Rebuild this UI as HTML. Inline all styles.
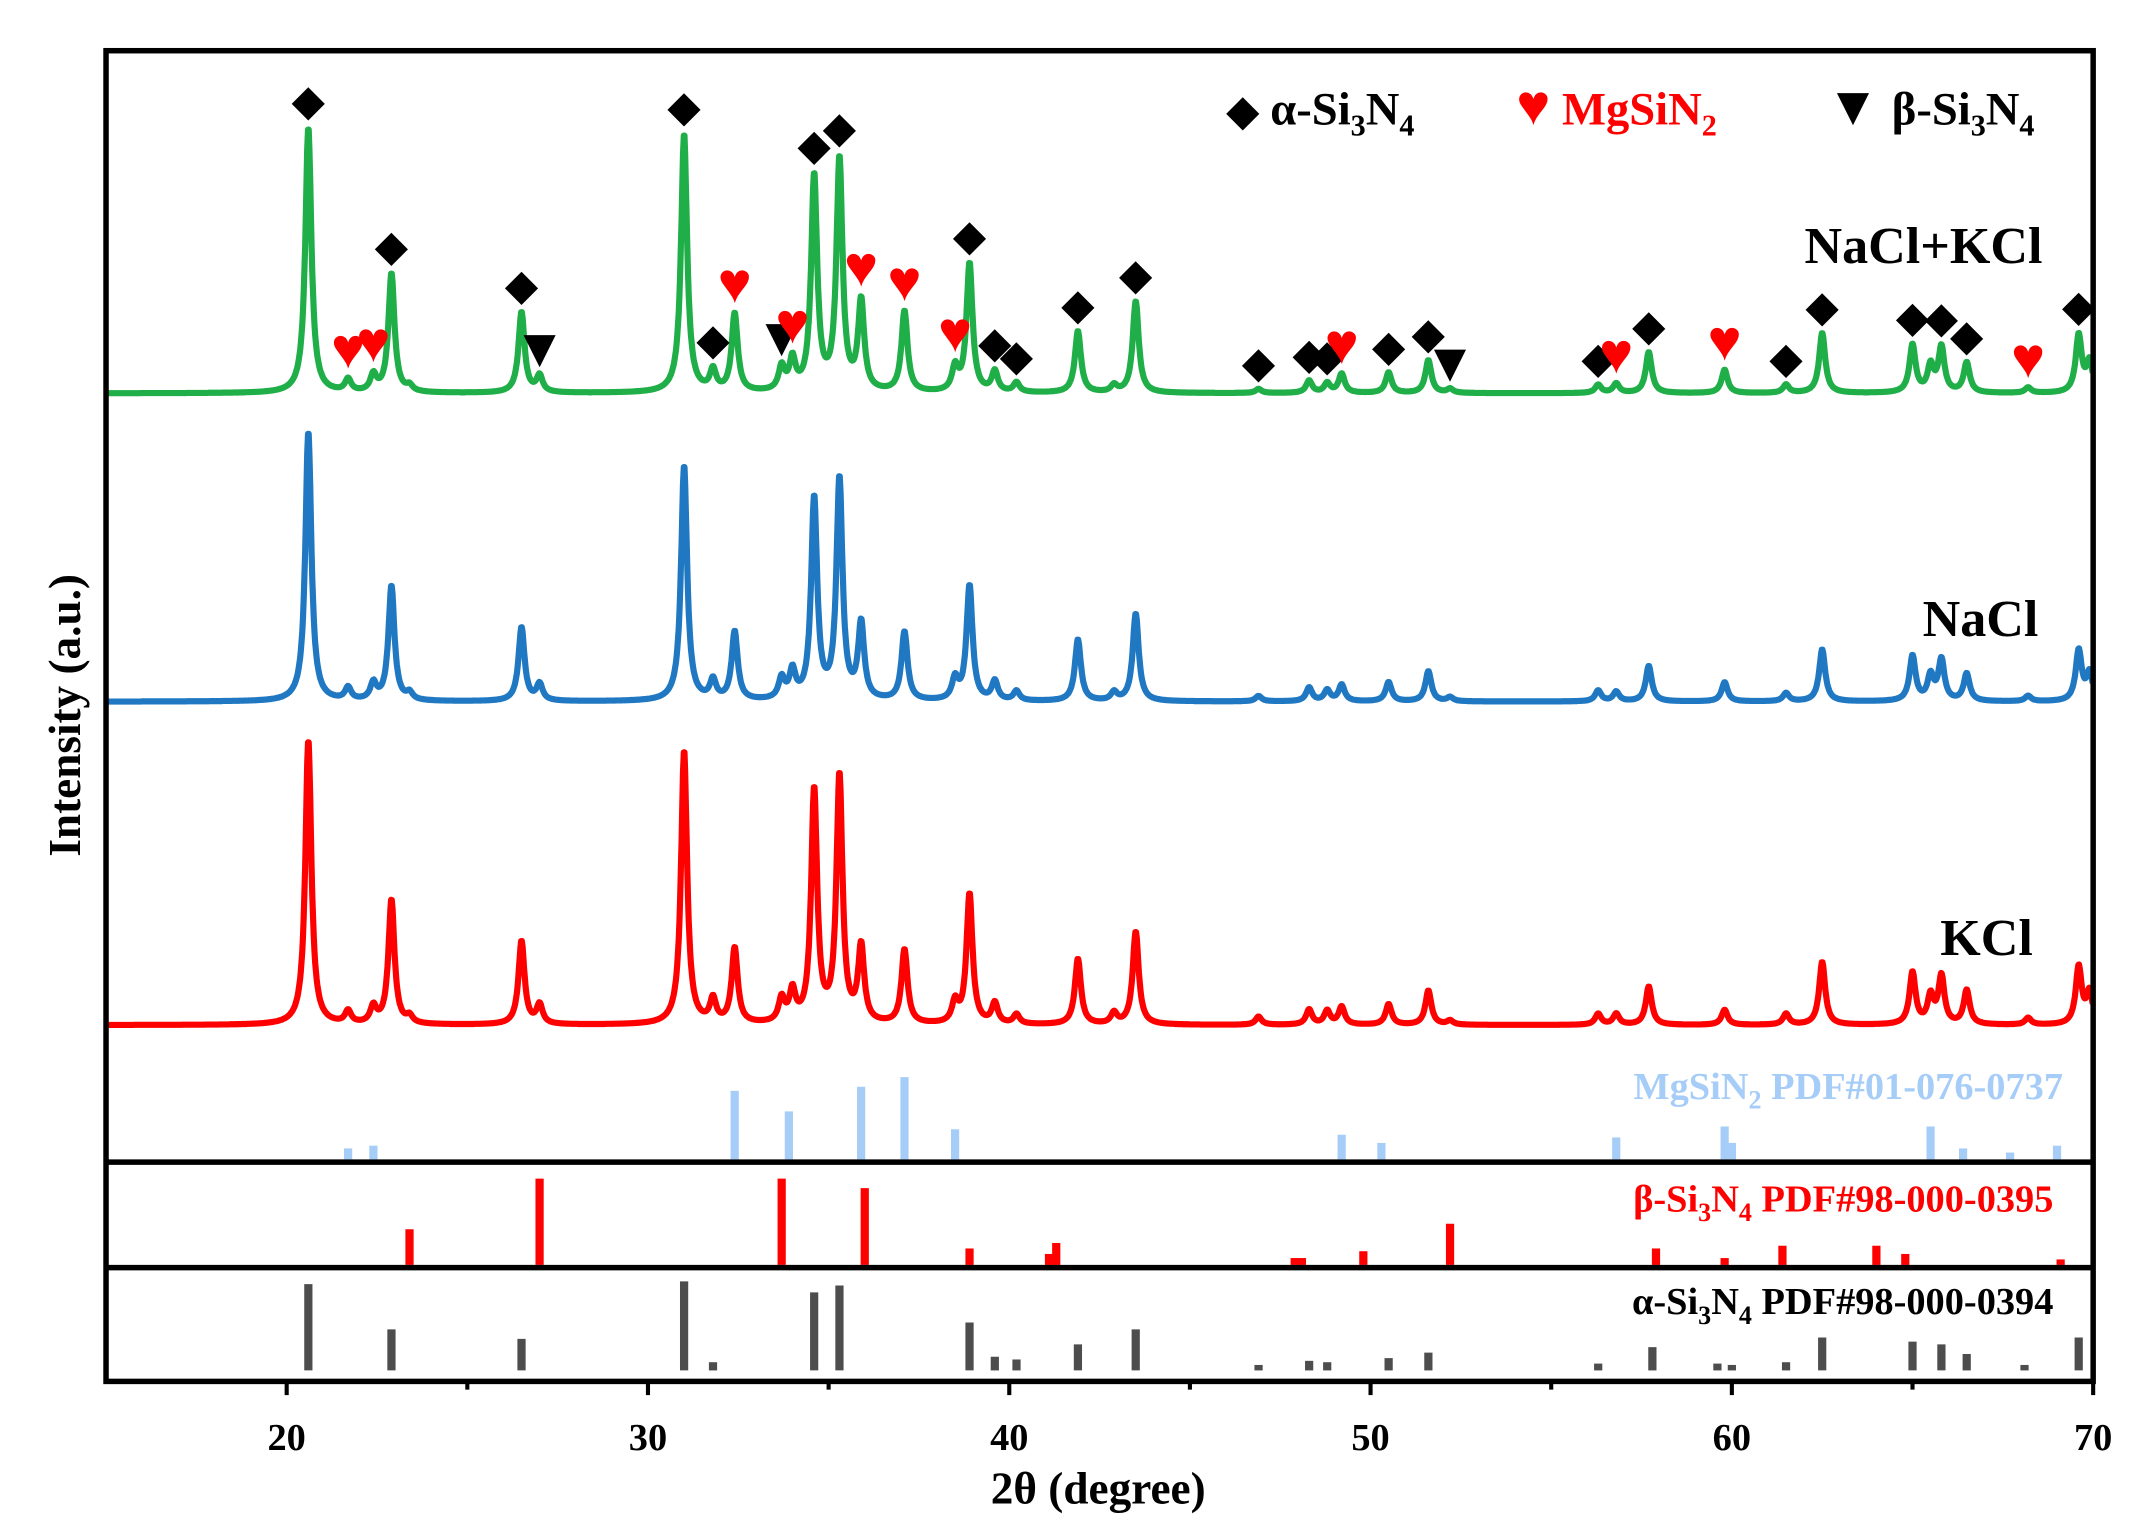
<!DOCTYPE html>
<html><head><meta charset="utf-8">
<style>
html,body{margin:0;padding:0;background:#fff;}
svg{display:block;font-family:"Liberation Serif",serif;font-weight:bold;}
</style></head>
<body>
<svg id="chart" width="2143" height="1539" viewBox="0 0 1563 1123" xmlns="http://www.w3.org/2000/svg">
<g id="curves"></g>
<g id="sticks"></g>
<g id="markers"></g>
<rect x="77" y="37" width="1450" height="971" fill="none" stroke="#000" stroke-width="4"/>
<line x1="77" y1="848" x2="1527" y2="848" stroke="#000" stroke-width="4"/>
<line x1="77" y1="925" x2="1527" y2="925" stroke="#000" stroke-width="4"/>
<g id="xaxis"></g>
<text x="801" y="1097" font-size="33" text-anchor="middle">2θ (degree)</text>
<text transform="translate(58,522) rotate(-90)" font-size="33" text-anchor="middle">Intensity (a.u.)</text>
<g font-size="34">
<text x="895" y="91"><tspan font-size="30">◆</tspan> α-Si<tspan font-size="22" dy="8">3</tspan><tspan dy="-8">N</tspan><tspan font-size="22" dy="8">4</tspan></text>
<text x="1106" y="91" fill="#ff0000"><tspan font-size="42">♥</tspan> MgSiN<tspan font-size="22" dy="8">2</tspan></text>
<text x="1332" y="91"><tspan font-size="40">▼</tspan> β-Si<tspan font-size="22" dy="8">3</tspan><tspan dy="-8">N</tspan><tspan font-size="22" dy="8">4</tspan></text>
</g>
<text x="1490" y="192" font-size="38" text-anchor="end">NaCl+KCl</text>
<text x="1487" y="464" font-size="38" text-anchor="end">NaCl</text>
<text x="1483" y="697" font-size="38" text-anchor="end">KCl</text>
<text x="1505" y="802" font-size="28" text-anchor="end" fill="#a6cdf7">MgSiN<tspan font-size="19" dy="7">2</tspan><tspan dy="-7"> PDF#01-076-0737</tspan></text>
<text x="1498" y="884" font-size="28" text-anchor="end" fill="#ff0000">β-Si<tspan font-size="19" dy="7">3</tspan><tspan dy="-7">N</tspan><tspan font-size="19" dy="7">4</tspan><tspan dy="-7"> PDF#98-000-0395</tspan></text>
<text x="1498" y="959" font-size="28" text-anchor="end">α-Si<tspan font-size="19" dy="7">3</tspan><tspan dy="-7">N</tspan><tspan font-size="19" dy="7">4</tspan><tspan dy="-7"> PDF#98-000-0394</tspan></text>
</svg>
<script>
const peakPos   = [20.6,21.7,22.4,22.9,23.4,26.5,27.0,31.0,31.8,32.4,33.7,34.0,34.6,35.3,35.9,37.1,38.5,38.9,39.6,40.2,41.9,42.9,43.5,46.9,48.3,48.8,49.2,50.5,51.6,52.2,56.3,56.8,57.7,59.8,61.5,62.5,65.0,65.5,65.8,66.5,68.2,69.6,69.9];
const greenH    = [194,9,12,87,4,59,12,189,15,57,17,22,157,169,65,59,17,94,15,7,45,5,67,3,9,7,14,15,24,3,6,7,30,17,6,44,35,19,33,22,4,42,22];
const blueH     = [197,9,12,84,5,54,12,172,14,50,15,20,147,161,55,50,15,84,14,7,45,6,64,4,10,8,12,14,22,3,8,7,26,14,6,38,33,18,30,20,4,37,20];
const redH      = [208,9,12,91,5,61,14,200,17,55,17,22,170,180,55,54,15,95,15,7,48,8,68,6,11,10,13,15,25,3,8,8,28,11,8,46,38,20,35,25,5,42,23];
const seriesBase  = [287,512,748];
const mgPos = [21.7,22.4,32.4,33.9,35.9,37.1,38.5,49.2,50.3,56.8,59.8,60.0,65.5,66.4,67.7,69.0];
const mgH   = [8,10,50,35,53,60,22,18,12,16,24,12,24,8,5,10];
const betaPos = [23.4,27.0,33.7,36.0,38.9,41.1,41.3,47.9,48.1,49.8,52.2,57.9,59.8,61.4,64.0,64.8,69.1];
const betaH   = [26,63,63,56,12,8,16,5,5,10,30,12,5,14,14,8,4];
const alphaPos = [20.6,22.9,26.5,31.0,31.8,34.6,35.3,38.9,39.6,40.2,41.9,43.5,46.9,48.3,48.8,50.5,51.6,56.3,57.8,59.6,60.0,61.5,62.5,65.0,65.8,66.5,68.1,69.6];
const alphaH   = [63,30,23,65,6,57,62,35,10,8,19,30,4,7,6,9,13,5,17,5,4,6,24,21,19,12,4,24];
const markerPos  = [20.6,21.7,22.4,22.9,26.5,27.0,31.0,31.8,32.4,33.7,34.0,34.6,35.3,35.9,37.1,38.5,38.9,39.6,40.2,41.9,43.5,46.9,48.3,48.8,49.2,50.5,51.6,52.2,56.3,56.8,57.7,59.8,61.5,62.5,65.0,65.8,66.5,68.2,69.6];
const markerType = ['a','m','m','a','a','b','a','a','m','b','m','a','a','m','m','m','a','a','a','a','a','a','a','a','m','a','a','b','a','m','a','m','a','a','a','a','a','m','a'];
const xTicks = [20,30,40,50,60,70];

const NS="http://www.w3.org/2000/svg";
const X0=15,X1=70,PX0=77,PX1=1527;
function xs(v){return PX0+(v-X0)/(X1-X0)*(PX1-PX0);}
const hw=0.1;
function curveVal(x,h){let s=0;for(let i=0;i<peakPos.length;i++){const d=(x-peakPos[i])/hw;s+=h[i]/(1+d*d);}return s;}
const colors=['#1fae48','#1f78c1','#ff0000'];
const names=['curve-nacl-kcl','curve-nacl','curve-kcl'];
const allH=[greenH,blueH,redH];
const cg=document.getElementById('curves');
for(let k=0;k<3;k++){
  let d='';
  for(let x=X0+0.05;x<=X1;x+=0.02){const y=seriesBase[k]-curveVal(x,allH[k]);d+=(d?'L':'M')+xs(x).toFixed(1)+','+y.toFixed(1);}
  const p=document.createElementNS(NS,'path');
  p.setAttribute('d',d);p.setAttribute('fill','none');p.setAttribute('stroke',colors[k]);p.setAttribute('stroke-width','4.5');p.setAttribute('stroke-linejoin','round');
  
  
  cg.appendChild(p);
}
const sg=document.getElementById('sticks');
function sticks(pos,h,base,color,nm){
  for(let i=0;i<pos.length;i++){
    const l=document.createElementNS(NS,'line');
    l.setAttribute('x1',xs(pos[i]));l.setAttribute('x2',xs(pos[i]));l.setAttribute('y1',base);l.setAttribute('y2',base-h[i]);
    l.setAttribute('stroke',color);l.setAttribute('stroke-width','6');
    
    
    sg.appendChild(l);
  }
}
sticks(mgPos,mgH,846,'#a6cdf7','mgsin2-stick');
sticks(betaPos,betaH,923,'#ff0000','beta-stick');
sticks(alphaPos,alphaH,1000,'#4d4d4d','alpha-stick');
const mg=document.getElementById('markers');
for(let i=0;i<markerPos.length;i++){
  const x=markerPos[i];let m=0;
  for(let t=x-0.15;t<=x+0.15;t+=0.01)m=Math.max(m,curveVal(t,greenH));
  const ty=markerType[i];
  const y=seriesBase[0]-m-(ty==='a'?9:ty==='m'?7:5);
  const t=document.createElementNS(NS,'text');
  t.textContent=ty==='a'?'◆':ty==='m'?'♥':'▼';
  t.setAttribute('x',xs(x));t.setAttribute('y',y);t.setAttribute('text-anchor','middle');
  t.setAttribute('font-size',ty==='a'?'30':ty==='m'?'42':'40');
  t.setAttribute('fill',ty==='m'?'#ff0000':'#000');
  
  
  mg.appendChild(t);
}
const xg=document.getElementById('xaxis');
for(let v=20;v<=70;v+=5){
  const l=document.createElementNS(NS,'line');
  const major=v%10===0;
  l.setAttribute('x1',xs(v));l.setAttribute('x2',xs(v));l.setAttribute('y1',1008);l.setAttribute('y2',major?1018:1014);
  l.setAttribute('stroke','#000');l.setAttribute('stroke-width','3');
  
  
  xg.appendChild(l);
}
for(const v of xTicks){
  const t=document.createElementNS(NS,'text');
  t.textContent=v;t.setAttribute('x',xs(v));t.setAttribute('y',1058);t.setAttribute('text-anchor','middle');t.setAttribute('font-size','28');
  
  
  xg.appendChild(t);
}
</script>
</body></html>
